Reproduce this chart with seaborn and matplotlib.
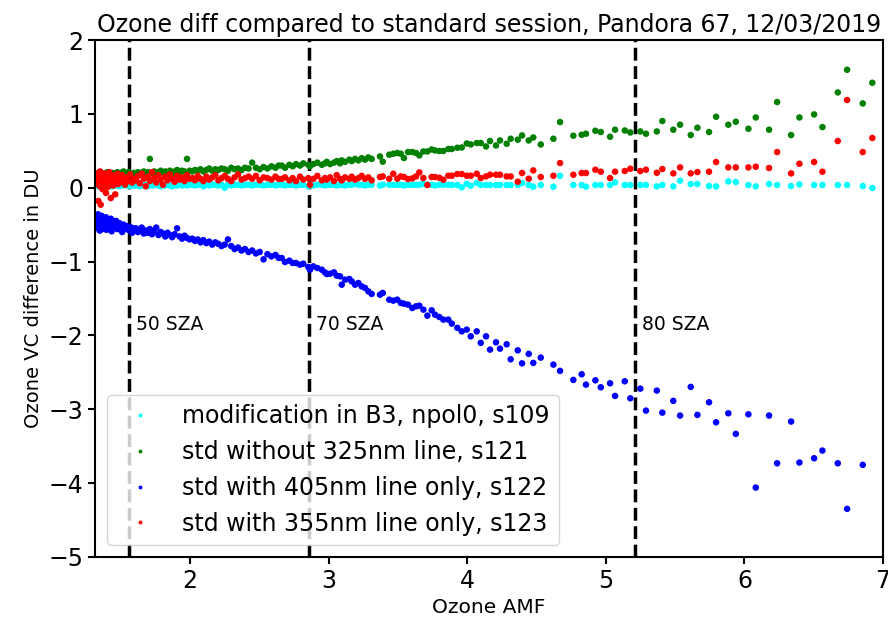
import numpy as np
import pandas as pd
import seaborn as sns
import matplotlib
matplotlib.use("Agg")
import matplotlib.pyplot as plt

# sessions, same order as the legend
sessions = ["modification in B3, npol0, s109",
            "std without 325nm line, s121",
            "std with 405nm line only, s122",
            "std with 355nm line only, s123"]
colors = ["cyan", "green", "blue", "red"]

# ozone air mass factor, shared by all four sessions
amf = [1.331, 1.334, 1.337, 1.340, 1.343, 1.346, 1.349, 1.352, 1.356, 1.359,
       1.362, 1.366, 1.369, 1.373, 1.377, 1.381, 1.385, 1.389, 1.394, 1.398,
       1.403, 1.408, 1.413, 1.418, 1.424, 1.429, 1.435, 1.441, 1.447, 1.454,
       1.461, 1.468, 1.476, 1.484, 1.492, 1.501, 1.511, 1.521, 1.532, 1.544,
       1.556, 1.569, 1.583, 1.597,
       1.611, 1.625, 1.638, 1.652, 1.667, 1.681, 1.696, 1.711, 1.726, 1.742,
       1.757, 1.773, 1.789, 1.805, 1.822, 1.838, 1.855, 1.872, 1.889, 1.907,
       1.925, 1.943, 1.961, 1.979, 1.998,
       2.017, 2.036, 2.056, 2.076, 2.097, 2.118, 2.139, 2.161, 2.183, 2.205,
       2.228, 2.251, 2.274, 2.298, 2.322, 2.347, 2.372, 2.397, 2.423, 2.449,
       2.476, 2.503, 2.531, 2.559, 2.588, 2.617, 2.640,
       2.662, 2.686, 2.717, 2.741, 2.765, 2.794, 2.818, 2.854, 2.866, 2.890,
       2.919, 2.951, 2.974, 2.987, 3.011, 3.039, 3.059, 3.083, 3.095, 3.119,
       3.150, 3.167, 3.191, 3.215, 3.239, 3.263, 3.287, 3.311,
       3.371, 3.391, 3.438, 3.467, 3.496, 3.521, 3.544, 3.573, 3.604, 3.631,
       3.655, 3.684, 3.713, 3.744, 3.768, 3.799, 3.828, 3.864,
       3.889, 3.929, 3.961, 3.997, 4.026, 4.069, 4.098, 4.136, 4.165, 4.208,
       4.237, 4.285, 4.314, 4.365, 4.396, 4.444, 4.477, 4.531, 4.622, 4.670,
       4.766, 4.826, 4.857, 4.925, 4.964, 5.031, 5.067,
       5.137, 5.177, 5.249, 5.290, 5.368, 5.408, 5.487, 5.536, 5.613, 5.661,
       5.745, 5.796, 5.884, 5.938, 6.029, 6.082, 6.178, 6.236, 6.337, 6.397,
       6.503, 6.563, 6.674, 6.741, 6.854, 6.923]

d_s109 = [0.04, 0.03, 0.05, 0.02, 0.04, 0.06, 0.03, 0.04, 0.05, 0.02,
          0.04, 0.03, 0.05, 0.04, 0.02, 0.05, 0.03, 0.04, 0.06, 0.03,
          0.04, 0.02, 0.05, 0.04, 0.03, 0.05, 0.04, 0.02, 0.04, 0.03,
          0.05, 0.04, 0.03, 0.04, 0.02, 0.04, 0.03, 0.05, 0.04, 0.03,
          0.04, 0.02, 0.04, 0.03,
          0.03, 0.04, 0.02, 0.04, 0.03, 0.04, 0.02, 0.04, 0.03, 0.04,
          0.04, 0.03, 0.02, 0.04, 0.03, 0.04, 0.03, 0.02, 0.04, 0.03,
          0.04, 0.03, 0.04, 0.03, 0.04,
          0.04, 0.03, 0.04, 0.04, 0.02, 0.04, 0.03, 0.04, 0.04, 0.03,
          0.04, 0.00, 0.04, 0.03, 0.04, 0.04, 0.03, 0.04, 0.04, 0.03,
          0.04, 0.04, 0.03, 0.04, 0.04, 0.03, 0.04,
          0.04, 0.03, 0.04, 0.04, 0.03, 0.04, 0.04, 0.02, 0.04, 0.03,
          0.04, 0.04, 0.03, 0.04, 0.04, 0.04, 0.03, 0.04, 0.04, 0.03,
          0.04, 0.04, 0.05, 0.04, 0.04, 0.03, 0.04, 0.04,
          0.03, 0.04, 0.04, 0.04, 0.04, 0.04, 0.03, 0.04, 0.04, 0.04,
          0.04, 0.05, 0.04, 0.04, 0.03, 0.04, 0.04, 0.04,
          0.037, 0.037, 0.004, 0.054, 0.027, 0.063, 0.037, 0.037, 0.037, 0.037,
          0.037, 0.037, 0.037, 0.037, 0.063, 0.037, 0.014, 0.037, 0.014, 0.162,
          0.037, 0.037, 0.014, 0.037, 0.037, 0.037, 0.072,
          0.037, 0.037, 0.037, 0.037, 0.018, 0.037, 0.018, 0.095, 0.050, 0.050,
          0.023, 0.018, 0.085, 0.077, 0.037, 0.018, 0.050, 0.037, 0.023, 0.045,
          0.037, 0.037, 0.037, 0.037, 0.023, -0.004]

d_s121 = [0.14, 0.17, 0.12, 0.19, 0.15, 0.16, 0.13, 0.18, 0.16, 0.14,
          0.20, 0.15, 0.17, 0.13, 0.18, 0.16, 0.19, 0.15, 0.17, 0.14,
          0.21, 0.16, 0.18, 0.15, 0.19, 0.17, 0.16, 0.20, 0.18, 0.15,
          0.19, 0.17, 0.21, 0.16, 0.18, 0.20, 0.17, 0.22, 0.19, 0.18,
          0.21, 0.19, 0.17, 0.20,
          0.19, 0.21, 0.18, 0.20, 0.22, 0.19, 0.21, 0.39, 0.20, 0.22,
          0.19, 0.21, 0.23, 0.20, 0.22, 0.21, 0.23, 0.20, 0.22, 0.24,
          0.21, 0.23, 0.22, 0.39, 0.23,
          0.22, 0.24, 0.23, 0.25, 0.22, 0.24, 0.26, 0.23, 0.25, 0.24,
          0.26, 0.25, 0.23, 0.27, 0.25, 0.26, 0.24, 0.27, 0.26, 0.34,
          0.27, 0.25, 0.28, 0.26, 0.29, 0.27, 0.30,
          0.30, 0.27, 0.31, 0.29, 0.32, 0.30, 0.33, 0.31, 0.29, 0.32,
          0.34, 0.31, 0.33, 0.35, 0.32, 0.34, 0.36, 0.33, 0.37, 0.35,
          0.38, 0.36, 0.39, 0.37, 0.40, 0.38, 0.41, 0.39,
          0.424, 0.352, 0.447, 0.460, 0.470, 0.460, 0.402, 0.483, 0.483, 0.470,
          0.437, 0.491, 0.491, 0.518, 0.505, 0.497, 0.497, 0.524,
          0.524, 0.541, 0.545, 0.599, 0.586, 0.605, 0.605, 0.559, 0.632, 0.572,
          0.640, 0.595, 0.663, 0.650, 0.708, 0.640, 0.681, 0.586, 0.663, 0.889,
          0.704, 0.717, 0.731, 0.771, 0.754, 0.690, 0.785,
          0.775, 0.748, 0.762, 0.731, 0.762, 0.903, 0.785, 0.853, 0.713, 0.812,
          0.754, 0.961, 0.853, 0.893, 0.798, 0.951, 0.785, 1.160, 0.713, 0.951,
          0.992, 0.821, 1.290, 1.597, 1.141, 1.421]

d_s122 = [-0.42, -0.50, -0.36, -0.55, -0.45, -0.39, -0.58, -0.47, -0.43, -0.52,
          -0.38, -0.49, -0.56, -0.44, -0.41, -0.53, -0.47, -0.50, -0.40, -0.57,
          -0.46, -0.51, -0.44, -0.54, -0.48, -0.42, -0.59, -0.50, -0.46, -0.53,
          -0.49, -0.45, -0.56, -0.51, -0.48, -0.54, -0.60, -0.50, -0.55, -0.52,
          -0.57, -0.53, -0.61, -0.55,
          -0.55, -0.60, -0.57, -0.54, -0.62, -0.58, -0.61, -0.56, -0.63, -0.59,
          -0.54, -0.64, -0.60, -0.62, -0.66, -0.61, -0.64, -0.67, -0.63, -0.55,
          -0.66, -0.69, -0.65, -0.68, -0.70,
          -0.69, -0.72, -0.70, -0.74, -0.71, -0.75, -0.73, -0.77, -0.74, -0.76,
          -0.79, -0.77, -0.70, -0.79, -0.83, -0.81, -0.85, -0.83, -0.87, -0.85,
          -0.89, -0.87, -0.97, -0.90, -0.93, -0.91, -0.95,
          -0.952, -1.006, -0.988, -1.019, -1.019, -1.042, -1.029, -1.073, -1.110, -1.065,
          -1.087, -1.110, -1.146, -1.168, -1.164, -1.146, -1.191, -1.200, -1.313, -1.245,
          -1.236, -1.268, -1.313, -1.290, -1.336, -1.357, -1.403, -1.438,
          -1.448, -1.425, -1.516, -1.529, -1.516, -1.560, -1.570, -1.583, -1.628, -1.606,
          -1.597, -1.651, -1.732, -1.660, -1.719, -1.750, -1.786, -1.786,
          -1.840, -1.898, -1.945, -1.921, -2.012, -1.945, -2.101, -2.012, -2.192, -2.093,
          -2.179, -2.120, -2.323, -2.202, -2.378, -2.250, -2.372, -2.300, -2.395, -2.480,
          -2.602, -2.526, -2.666, -2.608, -2.702, -2.648, -2.819,
          -2.621, -2.851, -2.720, -3.018, -2.747, -3.045, -2.886, -3.085, -2.697, -3.076,
          -2.905, -3.176, -3.054, -3.333, -3.068, -4.060, -3.085, -3.731, -3.166, -3.721,
          -3.663, -3.559, -3.731, -4.348, -3.752, np.nan]

d_s123 = [0.12, 0.05, 0.20, -0.18, 0.09, 0.15, 0.02, 0.22, -0.23, 0.11,
          0.07, 0.18, -0.02, 0.14, 0.10, 0.04, 0.19, 0.13, -0.07, 0.08,
          0.16, 0.01, 0.12, 0.21, 0.06, -0.14, 0.17, 0.10, 0.03, 0.15,
          -0.09, 0.09, 0.19, 0.05, 0.13, 0.08, 0.17, 0.11, 0.04, 0.14,
          0.09, 0.18, 0.07, 0.12,
          0.10, 0.16, 0.06, 0.19, 0.12, 0.02, 0.15, 0.09, 0.21, 0.13,
          0.07, 0.17, 0.11, 0.04, 0.15, 0.10, 0.18, 0.12, 0.08, 0.16,
          0.11, 0.14, 0.09, 0.17, 0.12,
          0.13, 0.10, 0.16, 0.12, 0.09, 0.15, 0.11, 0.14, 0.17, 0.10,
          0.13, 0.16, 0.12, 0.09, 0.14, 0.18, 0.11, 0.13, 0.15, 0.12,
          0.16, 0.10, 0.14, 0.13, 0.11, 0.15, 0.12,
          0.12, 0.14, 0.10, 0.13, 0.09, 0.15, 0.11, 0.13, 0.04, 0.12,
          0.16, 0.10, 0.13, 0.11, 0.14, 0.09, 0.17, 0.12, 0.10, 0.14,
          0.12, 0.15, 0.11, 0.13, 0.16, 0.12, 0.14, 0.10,
          0.145, 0.153, 0.122, 0.189, 0.122, 0.153, 0.145, 0.118, 0.126, 0.153,
          0.207, 0.131, 0.037, 0.145, 0.145, 0.135, 0.108, 0.162,
          0.162, 0.185, 0.185, 0.162, 0.162, 0.189, 0.131, 0.153, 0.176, 0.176,
          0.176, 0.153, 0.153, 0.081, 0.199, 0.122, 0.234, 0.145, 0.162, 0.334,
          0.176, 0.199, 0.199, 0.244, 0.217, 0.131, 0.217,
          0.226, 0.257, 0.226, 0.244, 0.203, 0.253, 0.194, 0.275, 0.194, 0.212,
          0.217, 0.348, 0.275, 0.275, 0.275, 0.284, 0.267, 0.483, 0.194, 0.325,
          0.348, 0.217, 0.632, 1.187, 0.483, 0.673]

# solar zenith angle markers
sza_amf = [1.56, 2.86, 5.21]
sza_labels = ["50 SZA", "70 SZA", "80 SZA"]

sns.set_style("ticks", {"axes.edgecolor": "black", "xtick.color": "black",
                        "ytick.color": "black", "text.color": "black",
                        "axes.labelcolor": "black"})
plt.rcParams['font.family'] = ['DejaVu Sans']

frames = []
for name, vals in zip(sessions, [d_s109, d_s121, d_s122, d_s123]):
    frames.append(pd.DataFrame({"amf": amf, "diff": vals, "session": name}))
df = pd.concat(frames, ignore_index=True)

fig = plt.figure(figsize=(8.88, 6.21), dpi=100)
ax = fig.add_axes([95/888, 1-557/621, 788/888, 517/621])

for a in sza_amf:
    ax.axvline(a, color="black", linestyle="--", linewidth=2.5, zorder=1)
for a, lab in zip(sza_amf, sza_labels):
    ax.text(a + 0.05, -1.85, lab, fontsize=13.5, va="center", ha="left")

sns.scatterplot(data=df, x="amf", y="diff", hue="session", hue_order=sessions,
                palette=colors, s=22, linewidth=0, ax=ax, zorder=2)

ax.set_xlim(1.315, 7.0)
ax.set_ylim(-5, 2)
ax.set_xticks([2, 3, 4, 5, 6, 7])
ax.set_yticks([-5, -4, -3, -2, -1, 0, 1, 2])
ax.tick_params(labelsize=17, length=5, width=1.5)
for sp in ax.spines.values():
    sp.set_linewidth(1.5)
ax.set_xlabel("Ozone AMF", fontsize=14.5)
ax.set_ylabel("Ozone VC difference in DU", fontsize=14)
ax.set_title("Ozone diff compared to standard session, Pandora 67, 12/03/2019",
             fontsize=17, pad=6)

sns.move_legend(ax, "lower left", title=None, fontsize=17, labelspacing=0.5,
                markerscale=0.6, frameon=True, framealpha=0.8)

fig.savefig("out.png", dpi=100)
